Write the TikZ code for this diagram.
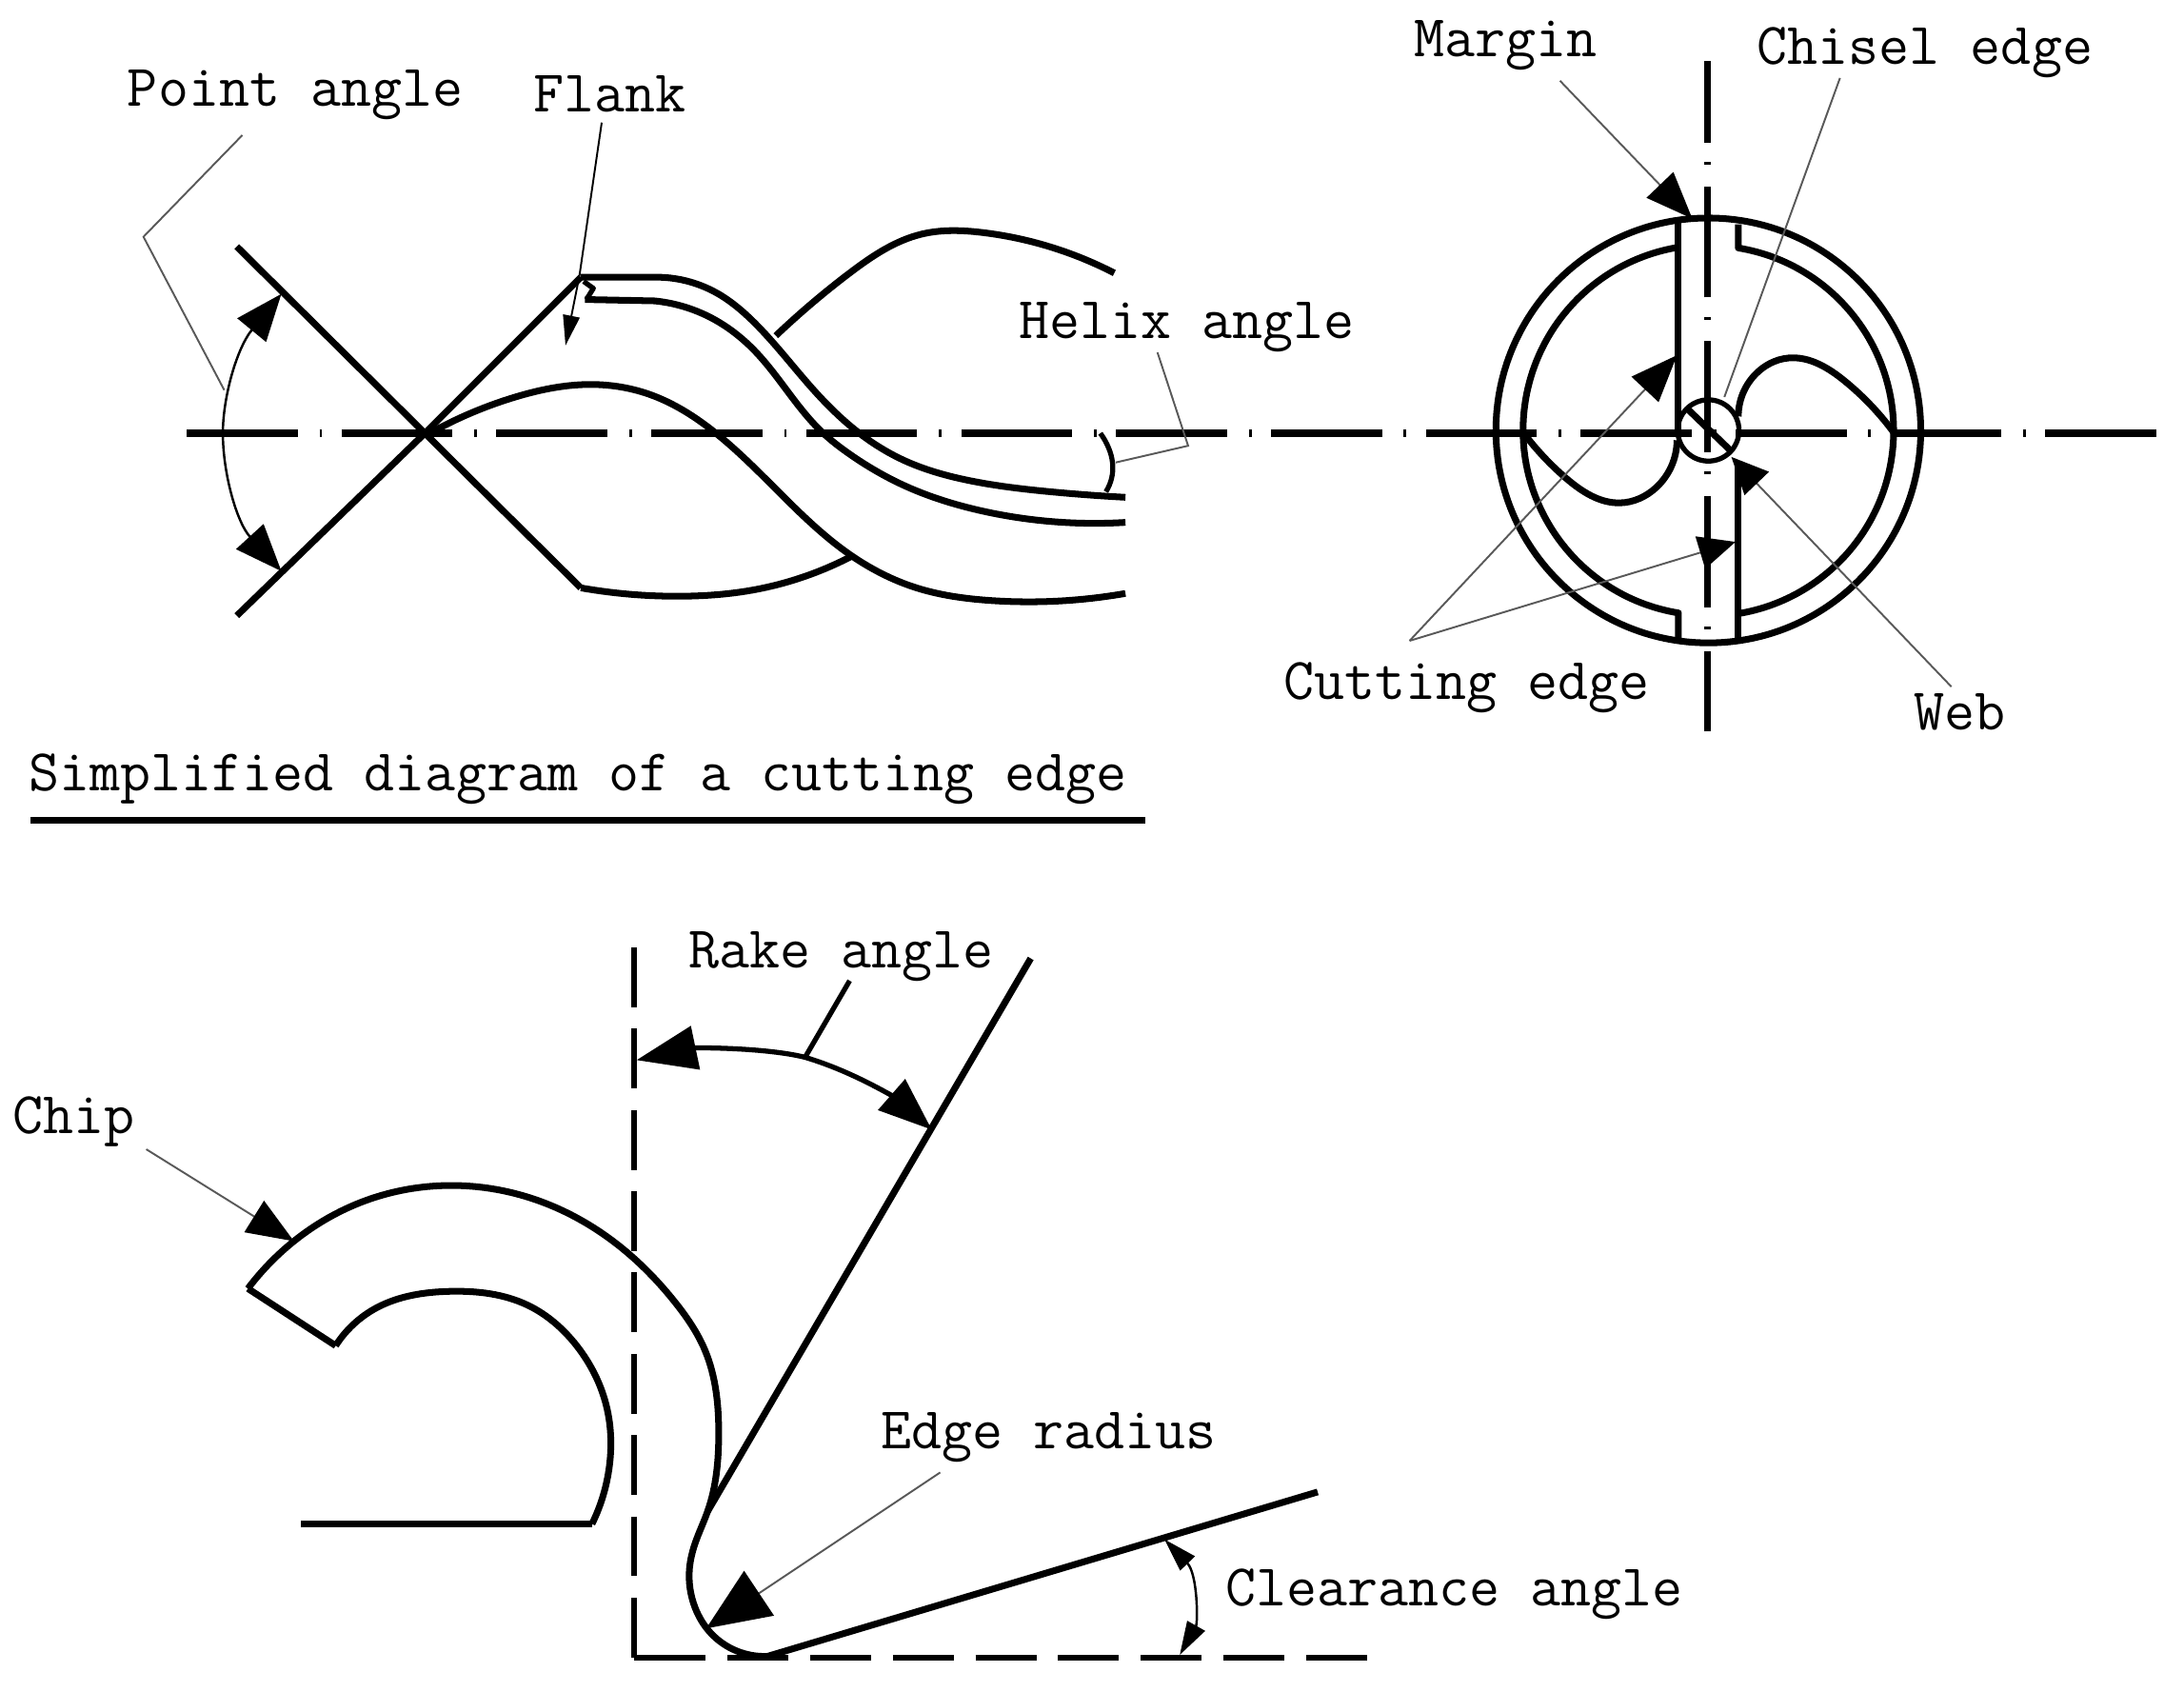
\documentclass[tikz,border=0pt]{standalone}
\usepackage{tikz}
\usetikzlibrary{arrows.meta, hobby}
\tikzstyle{tag} = [inner sep=0pt, anchor=base, font=\fontsize{17.7}{20}\selectfont\ttfamily]
\tikzstyle{outline} = [line width=2pt, line join=round]
\tikzstyle{curved} = [line width=2pt, line join=round, use Hobby shortcut]
\tikzstyle{thinedge} = [line width=1.5pt, line join=round]
\tikzstyle{centerline} = [line width=2pt, dash pattern=on 33.2pt off 6.5pt on 0.8pt off 5.8pt]
\tikzstyle{toolface} = [line width=1.8pt, dash pattern=on 17.9pt off 6.4pt]
\tikzstyle{leader} = [line width=0.55pt, draw=black!65]
\tikzstyle{bigtip} = [-{Triangle[length=14pt,width=11pt,color=black]}]
\tikzstyle{midtip} = [-{Triangle[length=9pt,width=5pt,color=black]}]
\tikzstyle{shorttip} = [-{Triangle[length=11pt,width=10pt,color=black]}]

\begin{document}
\begin{tikzpicture}[x=0.01463cm,y=-0.01463cm]
\useasboundingbox (0,0) rectangle (1568,1214.6);

% labels
\node (pointangle) [tag] at (212,76) {Point angle};
\node (flank) [tag] at (438,80) {Flank};
\node (margin) [tag] at (1081,41) {Margin};
\node (chisel) [tag] at (1382,46) {Chisel edge};
\node (helix) [tag] at (852,243) {Helix angle};
\node (cutting) [tag] at (1053,502) {Cutting edge};
\node (web) [tag] at (1407,524) {Web};
\node (caption) [tag] at (415,568) {Simplified diagram of a cutting edge};
\node (rake) [tag] at (604,695) {Rake angle};
\node (chip) [tag] at (53,814) {Chip};
\node (radius) [tag] at (753,1040) {Edge radius};
\node (clearance) [tag] at (1044,1153) {Clearance angle};

% points the leaders use
\coordinate (crossing) at (305,311);
\coordinate (pointtop) at (202,211);
\coordinate (pointbot) at (202,410);
\coordinate (pointmid) at (161,280);
\coordinate (pointelbow) at (103,170);
\coordinate (pointstart) at (174,97);
\coordinate (flankstart) at (432,88);
\coordinate (flankelbow) at (416,198);
\coordinate (flanktip) at (406,248);
\coordinate (helixstart) at (831,253);
\coordinate (helixelbow) at (853,320);
\coordinate (helixend) at (801,332);
\coordinate (marginstart) at (1120,58);
\coordinate (margintip) at (1215,157);
\coordinate (chiselstart) at (1321,56);
\coordinate (chiselend) at (1238,285);
\coordinate (cutapex) at (1012,460);
\coordinate (cuttipa) at (1204,255);
\coordinate (cuttipb) at (1246,389);
\coordinate (webstart) at (1401,493);
\coordinate (webtip) at (1243,328);
\coordinate (hub) at (1226.5,309);
\coordinate (corner) at (455,1190);
\coordinate (raketip) at (669,811);
\coordinate (rakeleft) at (457,761);
\coordinate (rakemid) at (578,759);
\coordinate (rakestart) at (610,704);
\coordinate (chipstart) at (105,825);
\coordinate (chiptip) at (211,891);
\coordinate (radiusstart) at (675,1057);
\coordinate (radiustip) at (507,1169);
\coordinate (cleartop) at (836,1105);
\coordinate (clearbot) at (847,1188);
\coordinate (nose) at (551,1189);

% centre lines
\draw [centerline] (134,311) -- (1556,311);
\draw [centerline, dash phase=9.2pt] (1226,525) -- (1226,44);

% side view of the drill
\draw [outline] (170,177) -- (crossing) -- (417,422);
\draw [outline] (170,442) -- (crossing) -- (417,199);
\draw [curved] (417,199) -- (470,199) .. (514,210) .. (542,232) .. (586,282) .. (617,311) .. (648,330) .. (696,345) .. (754,353) .. (808,357);
\draw [curved] (420,215) -- (470,216) .. (514,230) .. (542,252) .. (590,310) .. (610,326) .. (648,348) .. (706,367) .. (808,375);
\draw [thinedge] (419,202) -- (426,207) -- (421,215);
\draw [curved] (305,313) .. (370,285) .. (423,276) .. (466,283) .. (514,311) .. (566,360) .. (610,398) .. (658,422) .. (710,431) .. (808,426);
\draw [curved] (417,422) .. (490,428) .. (538,424) .. (612,399);
\draw [curved] (557,241) .. (610,196) .. (662,168) .. (706,167) .. (800,196);

% angles on the side view
\draw [line width=0.7pt, {Triangle[length=14pt,width=11pt]}-{Triangle[length=14pt,width=11pt]}] (pointtop) .. controls (170,250) and (160,285) .. (160,311) .. controls (160,340) and (170,375) .. (pointbot);
\draw [leader] (pointstart) -- (pointelbow) -- (pointmid);
\draw [leader, midtip, draw=black] (flankstart) -- (flankelbow) -- (flanktip);
\draw [thinedge] (790,311) .. controls (800,325) and (802,340) .. (794,353);
\draw [leader] (helixstart) -- (helixelbow) -- (helixend);

% end view of the drill
\draw [outline] (hub) circle [radius=152.5];
\draw [outline] (1205,157) -- (1205,314);
\draw [outline] (1205,459) -- (1205,440) arc [start angle=99.3, end angle=260.7, radius=133];
\draw [outline] (1248,161) -- (1248,178) arc [start angle=-80.7, end angle=80.7, radius=133];
\draw [outline] (1248,331) -- (1248,459);
\draw [curved] (1094,311) .. (1124,343) .. (1163,361) .. (1189,350) .. (1204,316);
\draw [curved] (1248,299) .. (1260,269) .. (1284,257) .. (1325,274) .. (1360,311);
\draw [thinedge] (hub) circle [radius=22];
\draw [outline] (1212,294) -- (1244,325);
\draw [leader, bigtip] (marginstart) -- (margintip);
\draw [leader] (chiselstart) -- (chiselend);
\draw [leader, bigtip] (cutapex) -- (cuttipa);
\draw [leader, shorttip] (cutapex) -- (cuttipb);
\draw [leader, shorttip] (webstart) -- (webtip);

\draw [line width=1.9pt] (22,589) -- (822,589);

% cutting edge detail
\draw [toolface] (455,680) -- (corner);
\draw [toolface, dash pattern=on 18.2pt off 6.5pt] (463,1190) -- (983,1190);
\draw [toolface, solid] (corner) -- (463,1190);
\draw [outline] (740,688) -- (508,1085);
\draw [outline] (nose) -- (946,1071);
\draw [curved] (178,925) .. (211,891) .. (262,862) .. (323,851) .. (384,861) .. (449,898) .. (484,934) .. (506,969) .. (516,1030) .. (508,1085) .. (499,1108) .. (495,1126) .. (499,1154) .. (510,1172) .. (nose);
\draw [outline] (178,925) -- (241,966);
\draw [curved] (241,966) .. (270,939) .. (323,927) .. (379,937) .. (414,966) .. (436,1012) .. (438,1048) .. (425,1094);
\draw [outline] (425,1094) -- (216,1094);

% angles on the detail
\draw [thinedge, {Triangle[length=18pt,width=13pt]}-{Triangle[length=16pt,width=12pt]}] (rakeleft) .. controls (500,752) and (550,752) .. (rakemid) .. controls (615,770) and (645,790) .. (raketip);
\draw [thinedge] (rakestart) -- (rakemid);
\draw [leader, bigtip] (chipstart) -- (chiptip);
\draw [leader, -{Triangle[length=19pt,width=16pt,color=black]}] (radiusstart) -- (radiustip);
\draw [line width=0.7pt, {Triangle[length=10pt,width=6pt]}-{Triangle[length=10pt,width=6pt]}] (cleartop) .. controls (860,1130) and (860,1165) .. (clearbot);
\end{tikzpicture}
\end{document}
